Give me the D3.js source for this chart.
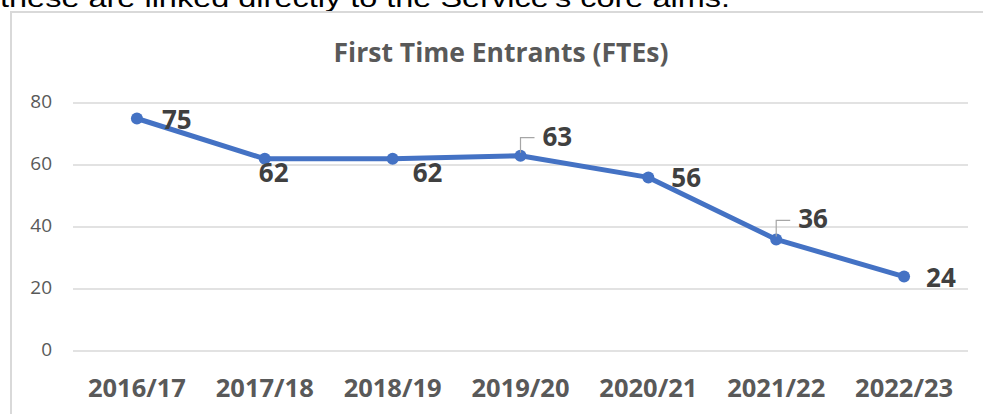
<!DOCTYPE html>
<html>
<head>
<meta charset="utf-8">
<script src="https://cdn.jsdelivr.net/npm/d3@7"></script>
<style>
  body { margin: 0; background: #fff; }
  svg { display: block; }
  text { font-family: "Open Sans", sans-serif; }
</style>
</head>
<body>
<div id="chart"></div>
<script>
var years = ['2016/17', '2017/18', '2018/19', '2019/20', '2020/21', '2021/22', '2022/23']
var ftes = [75, 62, 62, 63, 56, 36, 24]
var yTicks = [0, 20, 40, 60, 80]
var title = 'First Time Entrants (FTEs)'
var pageText = "these are linked directly to the Service's core aims."

// label layout, px relative to each point: [dx, baseline dy, leader line?]
var labelLayout = [[25, 10, 0], [-6, 23, 0], [20, 23, 0], [22, -10, 1], [23, 10, 0], [22, -11, 1], [22, 10, 0]]

var W = 983, H = 414
var m = {left: 73, right: 15, top: 103, bottom: 63}

var svg = d3.select('#chart').append('svg').attr('width', W).attr('height', H)

// cut-off line of document text above the chart
svg.append('text').attr('x', 0).attr('y', 7)
  .attr('textLength', 730).attr('lengthAdjust', 'spacingAndGlyphs')
  .style('font-family', '"Liberation Sans", Arial, sans-serif')
  .style('font-size', '26px').attr('fill', '#000').text(pageText)

svg.append('rect').attr('x', 11).attr('y', 12).attr('width', W + 10).attr('height', H + 10)
  .attr('fill', 'none').attr('stroke', '#d9d9d9').attr('stroke-width', 2)

svg.append('text').attr('x', 501).attr('y', 62).attr('text-anchor', 'middle')
  .attr('fill', '#595959').style('font-size', '26.5px').style('font-weight', 700)
  .text(title)

var x = d3.scaleBand().domain(years).range([m.left, W - m.right])
var y = d3.scaleLinear().domain([0, 80]).range([351, m.top])

var grid = svg.append('g')
yTicks.forEach(function(t){
  grid.append('line').attr('x1', m.left).attr('x2', W - m.right)
    .attr('y1', y(t)).attr('y2', y(t))
    .attr('stroke', '#d9d9d9').attr('stroke-width', 1.3)
  grid.append('text').attr('x', 52).attr('y', y(t) + 5).attr('text-anchor', 'end')
    .attr('fill', '#595959').style('font-size', '19px').text(t)
})

svg.append('g').selectAll('text').data(years).join('text')
  .attr('x', function(d){ return x(d) + x.bandwidth() / 2 })
  .attr('y', 397).attr('text-anchor', 'middle')
  .attr('fill', '#595959').style('font-size', '25.5px').style('font-weight', 700)
  .text(function(d){ return d })

var cx = function(i){ return x(years[i]) + x.bandwidth() / 2 }

var line = d3.line().x(function(d, i){ return cx(i) }).y(function(d){ return y(d) })

svg.append('path').attr('d', line(ftes)).attr('fill', 'none')
  .attr('stroke', '#4472C4').attr('stroke-width', 5).attr('stroke-linejoin', 'round')

svg.append('g').selectAll('circle').data(ftes).join('circle')
  .attr('cx', function(d, i){ return cx(i) }).attr('cy', function(d){ return y(d) })
  .attr('r', 6).attr('fill', '#4472C4')

// leader lines
ftes.forEach(function(d, i){
  var L = labelLayout[i]
  if (!L[2]) return
  var px = cx(i), py = y(d)
  svg.append('path')
    .attr('d', 'M' + px + ',' + (py - 3) + 'V' + (py + L[1] - 8) + 'H' + (px + L[0] - 8))
    .attr('fill', 'none').attr('stroke', '#a6a6a6').attr('stroke-width', 1.2)
})

svg.append('g').selectAll('text').data(ftes).join('text')
  .attr('x', function(d, i){ return cx(i) + labelLayout[i][0] })
  .attr('y', function(d, i){ return y(d) + labelLayout[i][1] })
  .attr('fill', '#404040').style('font-size', '26px').style('font-weight', 700)
  .text(function(d){ return d })
</script>
</body>
</html>
